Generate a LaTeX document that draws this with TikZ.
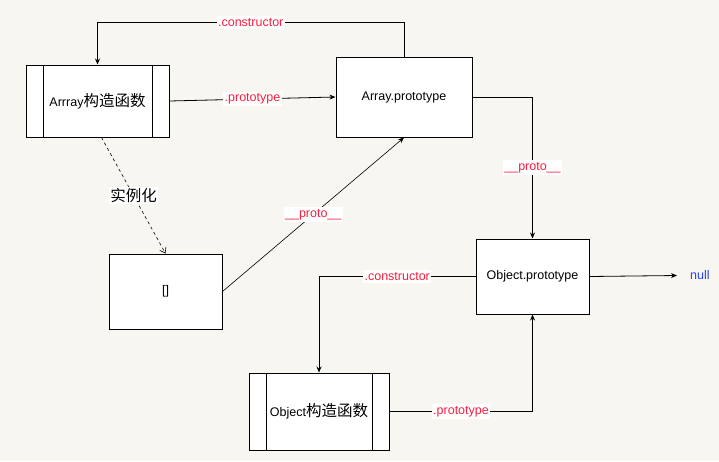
\documentclass[tikz,border=0pt]{standalone}
\usepackage{fontspec}
\setmainfont{Liberation Sans}
\newfontfamily\cjkf{Noto Sans CJK SC}
\newcommand\cjk{\cjkf\fontsize{15.5}{17}\selectfont}
\usetikzlibrary{arrows.meta}
\definecolor{bgc}{HTML}{F8F6F0}
\definecolor{lblred}{HTML}{F82040}
\definecolor{nullblue}{HTML}{2840FF}
\tikzset{
  box/.style={draw=black, line width=1pt, fill=white, inner sep=0pt},
  conn/.style={draw=black, line width=0.8pt, -{Stealth[length=6pt,width=5pt]}},
  lbl/.style={fill=white, text=lblred, inner xsep=1.5pt, inner ysep=2pt},
  blk/.style={fill=white, text=black, inner xsep=1pt, inner ysep=1pt},
  inner/.style={draw=black, line width=1pt}
}
\begin{document}
\begin{tikzpicture}[x=1pt,y=-1pt,font=\fontsize{12.5}{15}\selectfont]
\fill[bgc] (0,0) rectangle (719,461);
\useasboundingbox (0,0) rectangle (719,461);
% boxes
\node[box, minimum width=143pt, minimum height=72pt] (arrC) at (97.5,101) {Arrray{\cjk 构造函数}};
\node[box, minimum width=136pt, minimum height=80pt] (arrP) at (404,97) {Array.prototype};
\node[box, minimum width=113pt, minimum height=75pt] (inst) at (165.5,291.5) {[]};
\node[box, minimum width=113pt, minimum height=75pt] (objP) at (532.5,276.5) {Object.prototype};
\node[box, minimum width=140pt, minimum height=77pt] (objC) at (319,411.5) {Object{\cjk 构造函数}};
\node[text=nullblue, anchor=west, inner xsep=13pt, inner ysep=0pt] (nul) at (677,275.5) {null};
% inner lines
\draw[inner] ([xshift=18pt]arrC.north west) -- ([xshift=18pt]arrC.south west);
\draw[inner] ([xshift=-17pt]arrC.north east) -- ([xshift=-17pt]arrC.south east);
\draw[inner] ([xshift=18pt]objC.north west) -- ([xshift=18pt]objC.south west);
\draw[inner] ([xshift=-17pt]objC.north east) -- ([xshift=-17pt]objC.south east);
% connectors
\draw[conn] (arrP.north) -- ++(0,-34) -| node[lbl, pos=0.25] {.constructor} (arrC.north);
\draw[conn] (arrC.east) -- node[lbl] {.prototype} (arrP.west);
\draw[conn] (arrP.east) -| node[lbl, pos=0.75] {\_\_proto\_\_} (objP.north);
\draw[draw=black, line width=0.6pt, dashed, -{Straight Barb[length=5pt,width=7pt]}] ([xshift=4pt]arrC.south) -- node[blk] {\cjk 实例化} (inst.north);
\draw[conn, line width=0.6pt] (inst.east) -- node[lbl] {\_\_proto\_\_} (arrP.south);
\draw[conn] (objP.west) -| node[lbl, pos=0.25] {.constructor} (objC.north);
\draw[conn] (objC.east) -| node[lbl, pos=0.25] {.prototype} (objP.south);
\draw[conn] (objP.east) -- (nul.west);
\end{tikzpicture}
\end{document}
